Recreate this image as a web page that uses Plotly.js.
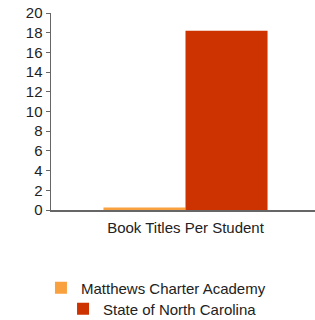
<!DOCTYPE html>
<html>
<head>
<meta charset="utf-8">
<script src="https://cdn.plot.ly/plotly-3.0.1.min.js"></script>
<style>html,body{margin:0;padding:0;overflow:hidden;background:#fff;}#chart{width:320px;height:320px;}</style>
</head>
<body>
<div id="chart"></div>
<script>
var categories = ["Book Titles Per Student"];
var seriesNames = ["Matthews Charter Academy", "State of North Carolina"];
var academyValues = [0.25];
var stateValues = [18.2];
var yTicks = [0, 2, 4, 6, 8, 10, 12, 14, 16, 18, 20];
var colors = ["#F9A03F", "#CC3300"];

var traces = [
  {type: "bar", name: seriesNames[0], x: categories, y: academyValues, marker: {color: colors[0]}, hoverinfo: "none", legend: "legend"},
  {type: "bar", name: seriesNames[1], x: categories, y: stateValues, marker: {color: colors[1]}, hoverinfo: "none", legend: "legend2"}
];

var legendCommon = {orientation: "h", xref: "container", yref: "container", xanchor: "left", yanchor: "middle", font: {size: 15, color: "#222"}, bgcolor: "rgba(0,0,0,0)"};

var layout = {
  width: 320, height: 320,
  margin: {l: 51, r: 0, t: 13, b: 109.5},
  font: {family: "Liberation Sans, Arial, sans-serif", size: 15, color: "#222"},
  paper_bgcolor: "#fff", plot_bgcolor: "#fff",
  barmode: "group", bargap: 0.39, bargroupgap: 0,
  showlegend: true,
  legend: Object.assign({}, legendCommon, {x: 0.128, y: 0.1}),
  legend2: Object.assign({}, legendCommon, {x: 0.197, y: 0.034}),
  xaxis: {type: "category", showline: true, linecolor: "#666", linewidth: 1.5, ticks: "outside", ticklen: 3, tickcolor: "rgba(0,0,0,0)", showgrid: false, zeroline: false, tickfont: {size: 15, color: "#222"}},
  yaxis: {range: [0, 20], tickvals: yTicks, ticktext: yTicks.map(String), showline: true, linecolor: "#666", linewidth: 1.5, ticks: "outside", ticklen: 4, tickcolor: "#666", showgrid: false, zeroline: false, tickfont: {size: 15, color: "#222"}}
};

Plotly.newPlot("chart", traces, layout, {staticPlot: true, displayModeBar: false});
</script>
</body>
</html>
